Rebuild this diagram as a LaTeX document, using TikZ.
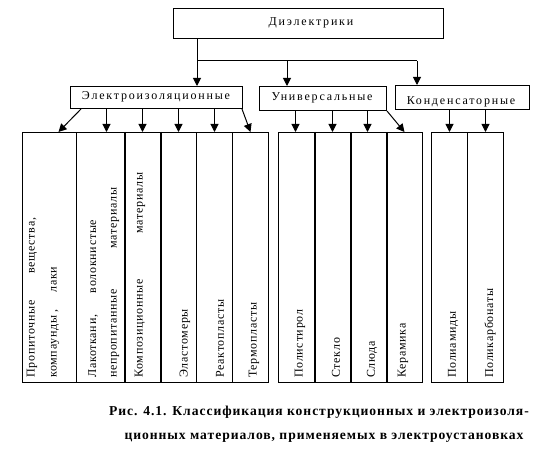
\documentclass[tikz,border=0pt]{standalone}
\usepackage{fontspec}
\setmainfont{Liberation Serif}
\newfontfamily\hfont[LetterSpace=15]{Liberation Serif}
\newfontfamily\vfont[LetterSpace=6]{Liberation Serif}
\newfontfamily\cfont[LetterSpace=7]{Liberation Serif}
\usetikzlibrary{arrows.meta,calc}
\begin{document}
\begin{tikzpicture}[x=1pt,y=-1pt,
  box/.style={draw, line width=1pt, inner sep=0pt, anchor=north west},
  arr/.style={line width=1pt, -{Triangle[length=8pt,width=8pt]}},
  ln/.style={line width=1pt},
  thk/.style={line width=2pt},
  vtxt/.style={rotate=90, anchor=west, inner sep=0pt, font=\vfont\fontsize{12}{14}\selectfont},
  htxt/.style={inner sep=0pt, font=\hfont\fontsize{12}{14}\selectfont},
  ctxt/.style={inner sep=0pt, font=\cfont\bfseries\fontsize{13.6}{15}\selectfont},
]
\useasboundingbox (0,0) rectangle (560,457);
% top and level-2 boxes
\node[box, minimum width=270pt, minimum height=30pt] (t) at (173,8) {};
\node[box, minimum width=172pt, minimum height=22pt] (e) at (70,86) {};
\node[box, minimum width=127pt, minimum height=24pt] (u) at (259,86) {};
\node[box, minimum width=134pt, minimum height=24pt] (k) at (395,85) {};
\node[htxt] (tt) at (311,23) {Диэлектрики};
\node[htxt] (et) at (156,97) {Электроизоляционные};
\node[htxt] (ut) at (322,98) {Универсальные};
\node[htxt] (kt) at (461,102) {Конденсаторные};
% bottom boxes
\node[box, minimum width=54pt, minimum height=250pt] (b1) at (22,132) {};
\node[box, minimum width=48pt, minimum height=250pt] (b2) at (76,132) {};
\node[box, minimum width=36pt, minimum height=250pt] (b3) at (124,132) {};
\node[box, minimum width=36pt, minimum height=250pt] (b4) at (160,132) {};
\node[box, minimum width=36pt, minimum height=250pt] (b5) at (196,132) {};
\node[box, minimum width=36pt, minimum height=250pt] (b6) at (232,132) {};
\node[box, minimum width=36pt, minimum height=250pt] (b7) at (278,132) {};
\node[box, minimum width=36pt, minimum height=250pt] (b8) at (314,132) {};
\node[box, minimum width=36pt, minimum height=250pt] (b9) at (350,132) {};
\node[box, minimum width=36pt, minimum height=250pt] (b10) at (386,132) {};
\node[box, minimum width=36pt, minimum height=250pt] (b11) at (431,132) {};
\node[box, minimum width=36pt, minimum height=250pt] (b12) at (467,132) {};
\draw[thk] (b2.north east) -- (b2.south east);
\draw[thk] (b3.north east) -- (b3.south east);
\draw[thk] (b7.north east) -- (b7.south east);
\draw[thk] (b8.north east) -- (b8.south east);
\draw[thk] (b9.north east) -- (b9.south east);
% vertical texts
\node[vtxt] (v1a) at (32,378) {\hbox to 160pt{Пропиточные\hfill вещества,}};
\node[vtxt] (v1b) at (55,378) {\hbox to 111pt{компаунды ,\hfill лаки}};
\node[vtxt] (v2a) at (93,378) {\hbox to 158pt{Лакоткани,\hfill волокнистые}};
\node[vtxt] (v2b) at (115,378) {\hbox to 190pt{непропитанные\hfill материалы}};
\node[vtxt] (v3) at (140,378) {\hbox to 205pt{Композиционные\hfill материалы}};
\node[vtxt] (v4) at (185,378) {Эластомеры};
\node[vtxt] (v5) at (220,378) {Реактопласты};
\node[vtxt] (v6) at (254,378) {Термопласты};
\node[vtxt] (v7) at (300,378) {Полистирол};
\node[vtxt] (v8) at (336,378) {Стекло};
\node[vtxt] (v9) at (372,378) {Слюда};
\node[vtxt] (v10) at (403,378) {Керамика};
\node[vtxt] (v11) at (453,378) {Полиамиды};
\node[vtxt] (v12) at (490,378) {Поликарбонаты};
% trunk
\coordinate (j1) at (197,61);
\coordinate (j2) at (287,61);
\coordinate (j3) at (417,61);
\draw[ln] (t.south -| j1) -- (j1) -- (j3);
\draw[arr] (j1) -- (j1 |- e.north);
\draw[arr] (j2) -- (j2 |- u.north);
\draw[arr] (j3) -- (j3 |- k.north);
% level-2 to bottom
\draw[arr] ([xshift=11pt]e.south west) -- ([xshift=9pt]b1.north);
\draw[arr] ([xshift=6pt]b2.north |- e.south) -- ([xshift=6pt]b2.north);
\draw[arr] (b3.north |- e.south) -- (b3.north);
\draw[arr] (b4.north |- e.south) -- (b4.north);
\draw[arr] (b5.north |- e.south) -- (b5.north);
\draw[arr] ([xshift=-1pt]e.south east) -- (b6.north);
\draw[arr] ([xshift=-1pt]b7.north |- u.south) -- ([xshift=-1pt]b7.north);
\draw[arr] (b8.north |- u.south) -- (b8.north);
\draw[arr] ([xshift=-1pt]b9.north |- u.south) -- ([xshift=-1pt]b9.north);
\draw[arr] (u.south east) -- (b10.north);
\draw[arr] (b11.north |- k.south) -- (b11.north);
\draw[arr] (b12.north |- k.south) -- (b12.north);
% caption
\node[ctxt] (c1) at (319,412) {Рис. 4.1. Классификация конструкционных и электроизоля-};
\node[ctxt] (c2) at (324,438) {ционных материалов, применяемых в электроустановках};
\end{tikzpicture}
\end{document}
